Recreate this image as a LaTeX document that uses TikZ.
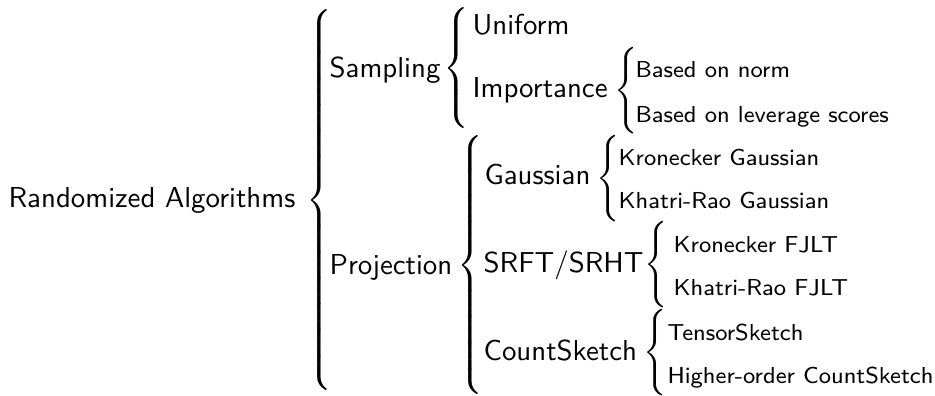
\documentclass[tikz,border=0pt]{standalone}
\usepackage{tikz}

% A left brace of at least the given total height, no null delimiter on the right
\newcommand{\lbracebox}[1]{{\nulldelimiterspace=0pt\delimiterfactor=1000\delimitershortfall=0pt%
  $\left\{\vcenter{\hbox{\rule{0pt}{#1}}}\right.$}}

\tikzset{
  label/.style={anchor=base west, inner sep=0pt, font=\sffamily},
  leaf/.style={label, font=\sffamily\footnotesize},
  bracenode/.style={anchor=west, inner sep=0pt, outer sep=0pt},
}

\begin{document}
\begin{tikzpicture}[x=0.3466pt, y=-0.3466pt]
  \useasboundingbox (0,0) rectangle (935,396);

  % root
  \node[label] (root) at (8,208) {Randomized Algorithms};
  \node[bracenode] (br0) at (306,200) {\lbracebox{131pt}};

  % first level
  \node[label] (samp) at (329,78) {Sampling};
  \node[label] (proj) at (329,274) {Projection};
  \node[bracenode] (br1) at (443,68) {\lbracebox{41pt}};
  \node[bracenode] (br2) at (457,265) {\lbracebox{89pt}};

  % sampling branch
  \node[label] (unif) at (472,35) {Uniform};
  \node[label] (imp) at (472,98) {Importance};
  \node[bracenode] (br3) at (614,90.5) {\lbracebox{29pt}};
  \node[leaf] (norm) at (635,78) {Based on norm};
  \node[leaf] (lev) at (635,123) {Based on leverage scores};

  % projection branch
  \node[label] (gauss) at (484,185) {Gaussian};
  \node[bracenode] (br4) at (596,178.5) {\lbracebox{29pt}};
  \node[leaf] (kg) at (618,166) {Kronecker Gaussian};
  \node[leaf] (krg) at (618,209) {Khatri-Rao Gaussian};

  \node[label] (srft) at (483,273) {SRFT/SRHT};
  \node[bracenode] (br5) at (644,265) {\lbracebox{29pt}};
  \node[leaf] (kf) at (673,253) {Kronecker FJLT};
  \node[leaf] (krf) at (673,295) {Khatri-Rao FJLT};

  \node[label] (cs) at (483,360) {CountSketch};
  \node[bracenode] (br6) at (643,353) {\lbracebox{29pt}};
  \node[leaf] (ts) at (667,340) {TensorSketch};
  \node[leaf] (hocs) at (667,383) {Higher-order CountSketch};
\end{tikzpicture}
\end{document}
